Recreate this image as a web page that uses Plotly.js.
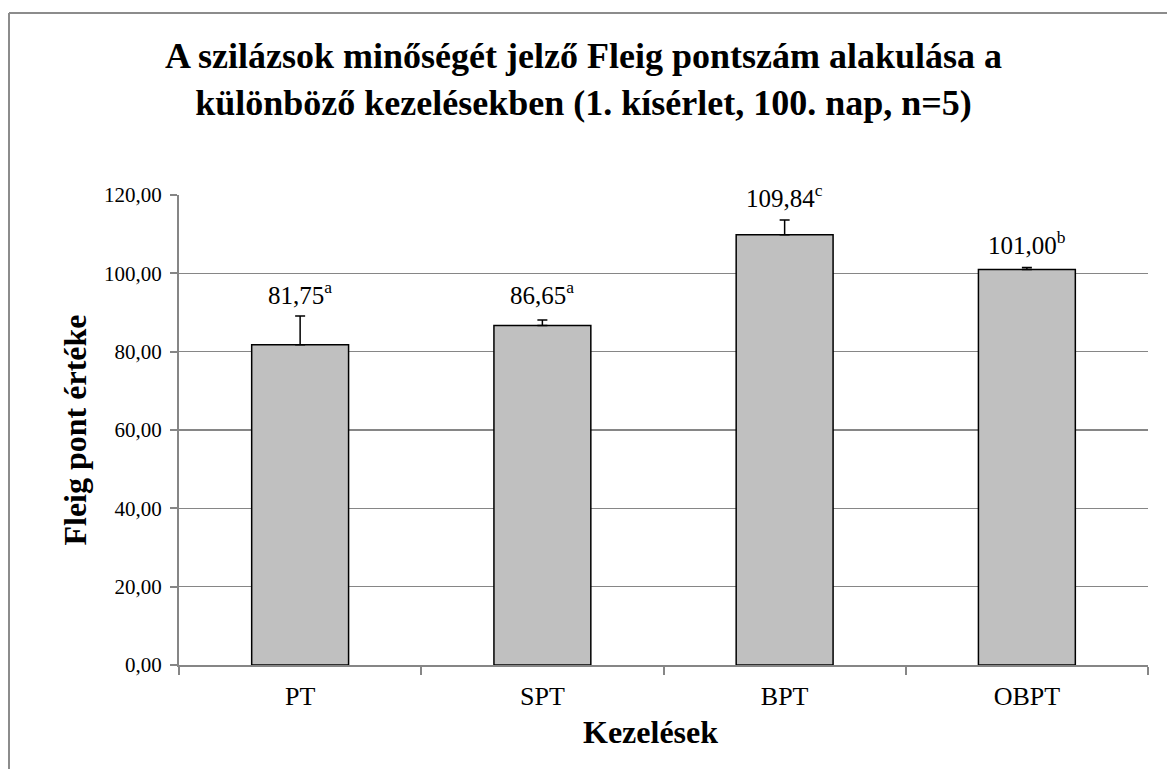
<!DOCTYPE html>
<html>
<head>
<meta charset="utf-8">
<script src="https://cdn.plot.ly/plotly-3.0.1.min.js"></script>
<style>html,body{margin:0;padding:0;background:#fff;}#chart{width:1167px;height:769px;}</style>
</head>
<body>
<div id="chart"></div>
<script>
const categories = ["PT", "SPT", "BPT", "OBPT"];
const values = [81.75, 86.65, 109.84, 101.00];
const errorsPlus = [7.35, 1.45, 3.8, 0.5];
const letters = ["a", "a", "c", "b"];
const labelY = [95.0, 95.0, 119.7, 107.7];
const yTicks = [0, 20, 40, 60, 80, 100, 120];

const FONT = "Liberation Serif";
const fmt = v => v.toFixed(2).replace('.', ',');

const trace = {
  type: 'bar',
  x: categories,
  y: values,
  marker: {color: '#c0c0c0', line: {color: '#000000', width: 1.5}},
  error_y: {type: 'data', symmetric: false, array: errorsPlus, arrayminus: values.map(() => 0),
            color: '#000000', thickness: 1.5, width: 5},
  hoverinfo: 'none'
};

const annotations = categories.map((c, i) => ({
  x: c, y: labelY[i], xref: 'x', yref: 'y',
  xanchor: 'center', yanchor: 'middle',
  text: fmt(values[i]) + '<sup>' + letters[i] + '</sup>',
  showarrow: false, bgcolor: '#ffffff', borderpad: 2,
  font: {family: FONT, size: 25, color: '#000'}
}));

const L = 179, R = 1148, T = 195, B = 665;
const px = X => (X - L) / (R - L);
const py = Y => (B - Y) / (B - T);

annotations.push({
  x: px(650), y: py(732), xref: 'paper', yref: 'paper',
  xanchor: 'center', yanchor: 'middle',
  text: 'Kezelések', showarrow: false,
  font: {family: FONT, size: 32, color: '#000', weight: 'bold'}
});

const layout = {
  width: 1167, height: 769,
  margin: {l: L, r: 1167 - R, t: T, b: 769 - B, pad: 0},
  paper_bgcolor: '#ffffff', plot_bgcolor: '#ffffff',
  separators: ', ',
  showlegend: false,
  bargap: 0.6,
  title: {
    text: 'A szilázsok minőségét jelző Fleig pontszám alakulása a<br>különböző kezelésekben (1. kísérlet, 100. nap, n=5)',
    font: {family: FONT, size: 36, color: '#000', weight: 'bold'},
    x: 0.5, xanchor: 'center', xref: 'container',
    y: 1 - 68 / 769, yanchor: 'middle', yref: 'container'
  },
  xaxis: {
    type: 'category',
    showgrid: false, zeroline: false,
    showline: true, linecolor: '#868686', linewidth: 2,
    ticks: 'outside', tickson: 'boundaries', ticklen: 8, tickwidth: 2, tickcolor: '#868686',
    tickfont: {family: FONT, size: 26, color: '#000'},
    ticklabelstandoff: 7
  },
  yaxis: {
    range: [0, 120],
    tickvals: yTicks, tickformat: '.2f',
    showgrid: true, gridcolor: '#868686', gridwidth: 1.5,
    zeroline: false,
    showline: true, linecolor: '#868686', linewidth: 2,
    ticks: 'outside', ticklen: 7, tickwidth: 2, tickcolor: '#868686',
    tickfont: {family: FONT, size: 21, color: '#000'},
    ticklabelstandoff: 4,
    title: {text: 'Fleig pont értéke', font: {family: FONT, size: 32, color: '#000', weight: 'bold'}, standoff: 8}
  },
  annotations: annotations,
  shapes: [
    {type: 'line', xref: 'paper', yref: 'paper', x0: px(9), x1: px(1170), y0: py(13), y1: py(13),
     line: {color: '#8c8c8c', width: 2}},
    {type: 'line', xref: 'paper', yref: 'paper', x0: px(9), x1: px(9), y0: py(13), y1: py(775),
     line: {color: '#8c8c8c', width: 2}}
  ]
};

Plotly.newPlot('chart', [trace], layout, {displayModeBar: false, staticPlot: true});
</script>
</body>
</html>
